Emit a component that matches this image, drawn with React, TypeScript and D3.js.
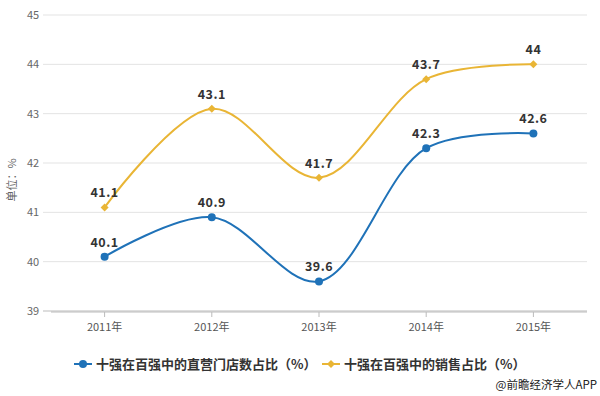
import React from "react";
import * as d3 from "d3";

const years = ["2011年", "2012年", "2013年", "2014年", "2015年"];
const storeShare = [40.1, 40.9, 39.6, 42.3, 42.6];
const salesShare = [41.1, 43.1, 41.7, 43.7, 44];
const yTicks = [39, 40, 41, 42, 43, 44, 45];
const seriesNames = ["十强在百强中的直营门店数占比（%）", "十强在百强中的销售占比（%）"];

const BLUE = "#1f72b8";
const GOLD = "#e9b535";

export default function App() {
  const W = 600, H = 396;
  const x = d3.scaleBand<string>().domain(years).range([51, 587]);
  const y = d3.scaleLinear().domain([39, 45]).range([311, 15]);
  const cx = (d: string) => (x(d) as number) + x.bandwidth() / 2;
  const line = d3
    .line<number>()
    .x((_, i) => cx(years[i]))
    .y((v) => y(v))
    .curve(d3.curveCatmullRom.alpha(0.5));
  const font = "'Microsoft YaHei', 'Noto Sans CJK SC', sans-serif";
  const diamond = (px: number, py: number, r: number) =>
    `M${px},${py - r}L${px + r},${py}L${px},${py + r}L${px - r},${py}Z`;
  return (
    <svg
      width={W}
      height={H}
      style={{ position: "absolute", left: 0, top: 0, background: "#fff" }}
      fontFamily={font}
    >
      {yTicks.map((t) => (
        <g key={t}>
          <line x1={43} x2={587} y1={y(t)} y2={y(t)} stroke={t === 39 ? "#bbb" : "#e3e3e3"} strokeWidth={1} />
          <text x={33} y={y(t) + 4} textAnchor="middle" fontSize={11} fill="#666">
            {t}
          </text>
        </g>
      ))}
      <line x1={51} x2={587} y1={312} y2={312} stroke="#bbb" />
      {years.map((yr) => (
        <g key={yr}>
          <line x1={cx(yr)} x2={cx(yr)} y1={312} y2={317} stroke="#bbb" />
          <text x={cx(yr)} y={331} textAnchor="middle" fontSize={11} fill="#555">
            {yr}
          </text>
        </g>
      ))}
      <text
        transform={`translate(16,180) rotate(-90)`}
        textAnchor="middle"
        fontSize={11}
        fill="#666"
      >
        单位：%
      </text>
      <path d={line(salesShare) || ""} fill="none" stroke={GOLD} strokeWidth={2} />
      <path d={line(storeShare) || ""} fill="none" stroke={BLUE} strokeWidth={2} />
      {salesShare.map((v, i) => (
        <g key={"s" + i}>
          <path d={diamond(cx(years[i]), y(v), 4)} fill={GOLD} />
          <text
            x={cx(years[i])}
            y={y(v) - 10}
            textAnchor="middle"
            fontSize={12.5}
            fontWeight="bold"
            fill="#333"
            letterSpacing={0.5}
          >
            {v}
          </text>
        </g>
      ))}
      {storeShare.map((v, i) => (
        <g key={"b" + i}>
          <circle cx={cx(years[i])} cy={y(v)} r={4} fill={BLUE} />
          <text
            x={cx(years[i])}
            y={y(v) - 10}
            textAnchor="middle"
            fontSize={12.5}
            fontWeight="bold"
            fill="#333"
            letterSpacing={0.5}
          >
            {v}
          </text>
        </g>
      ))}
      {/* legend */}
      <g>
        <line x1={74} x2={92} y1={364} y2={364} stroke={BLUE} strokeWidth={2} />
        <circle cx={83} cy={364} r={4} fill={BLUE} />
        <text x={96} y={369} fontSize={13} fontWeight="bold" fill="#333">
          {seriesNames[0]}
        </text>
        <line x1={322} x2={340} y1={364} y2={364} stroke={GOLD} strokeWidth={2} />
        <path d={diamond(331, 364, 4)} fill={GOLD} />
        <text x={344} y={369} fontSize={13} fontWeight="bold" fill="#333">
          {seriesNames[1]}
        </text>
      </g>
      <text x={597} y={389} textAnchor="end" fontSize={11.5} fill="#222">
        @前瞻经济学人APP
      </text>
    </svg>
  );
}
